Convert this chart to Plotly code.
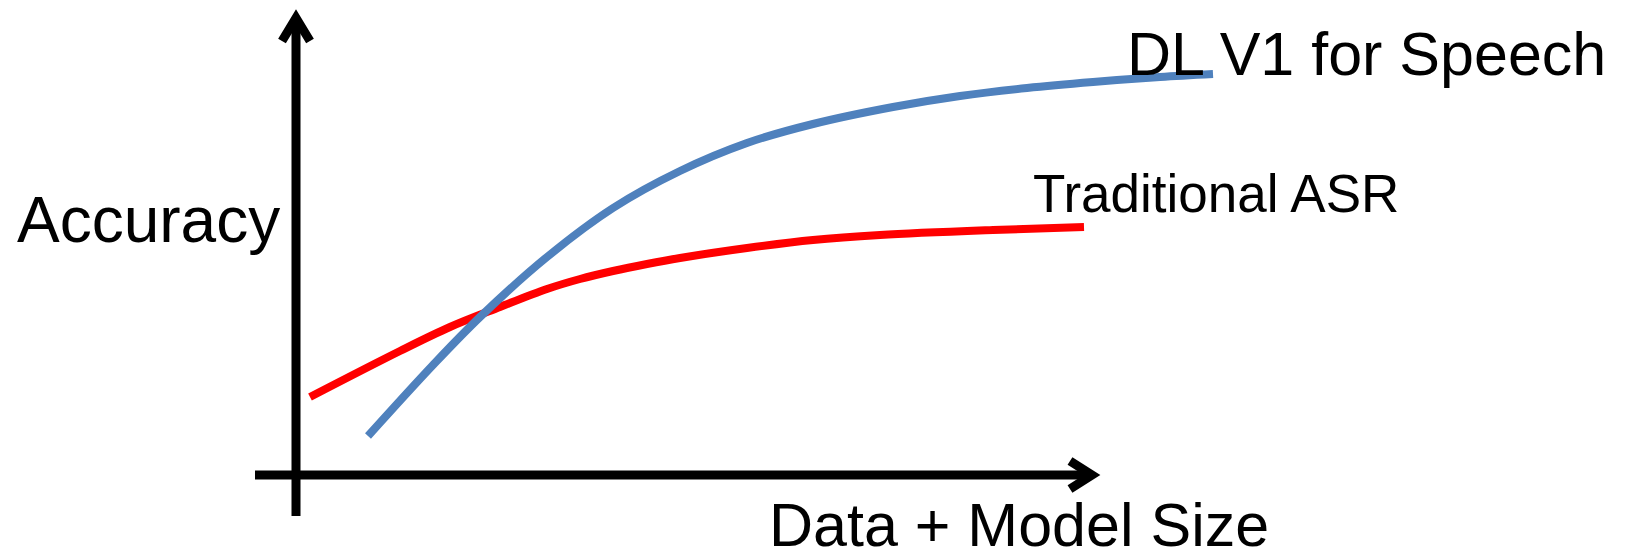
import plotly.graph_objects as go

# Concept sketch: accuracy vs. data + model size for two speech approaches.
# Coordinates are in a free unit space whose origin is the axis crossing.

blue_x = [72, 137, 184, 251, 317, 384, 451, 517, 597, 664, 731, 797, 864, 917]
blue_y = [39, 110, 158, 218, 267, 304, 332, 351, 368, 379, 387, 393, 398, 401]

red_x = [14, 104, 154, 204, 251, 284, 317, 351, 384, 451, 517, 584, 697, 788]
red_y = [78, 124, 148, 168, 186, 196, 204, 211, 217, 227, 235, 240, 245, 248]

series_names = ["DL V1 for Speech", "Traditional ASR"]
axis_titles = ["Accuracy", "Data + Model Size"]

# axis extents (same unit space)
x_axis_start, x_axis_end = -41, 796
y_axis_start, y_axis_end = -41, 457

BLUE = "#4F81BD"
RED = "#FF0000"
FONT = "Liberation Sans, Arial, sans-serif"

fig = go.Figure()

axis_line = dict(color="black", width=9)

# horizontal axis with chevron head
fig.add_trace(go.Scatter(x=[x_axis_start, x_axis_end], y=[0, 0], mode="lines",
                         line=axis_line, hoverinfo="skip"))
fig.add_trace(go.Scatter(x=[x_axis_end - 22, x_axis_end, x_axis_end - 22],
                         y=[14, 0, -14], mode="lines",
                         line=axis_line, hoverinfo="skip"))

# vertical axis with chevron head
fig.add_trace(go.Scatter(x=[0, 0], y=[y_axis_start, y_axis_end], mode="lines",
                         line=axis_line, hoverinfo="skip"))
fig.add_trace(go.Scatter(x=[-14, 0, 14],
                         y=[y_axis_end - 23, y_axis_end, y_axis_end - 23],
                         mode="lines",
                         line=axis_line, hoverinfo="skip"))

# curves
fig.add_trace(go.Scatter(x=red_x, y=red_y, mode="lines", name=series_names[1],
                         line=dict(color=RED, width=8, shape="spline", smoothing=1.0)))
fig.add_trace(go.Scatter(x=blue_x, y=blue_y, mode="lines", name=series_names[0],
                         line=dict(color=BLUE, width=8, shape="spline", smoothing=1.0)))

annotations = [
    dict(text=axis_titles[0], x=-281, y=255, size=64),
    dict(text=axis_titles[1], x=471, y=-50, size=61),
    dict(text=series_names[0], x=829, y=421, size=61),
    dict(text=series_names[1], x=735, y=282, size=53),
]
for a in annotations:
    fig.add_annotation(text=a["text"], x=a["x"], y=a["y"], xref="x", yref="y",
                       xanchor="left", yanchor="middle", showarrow=False,
                       font=dict(family=FONT, size=a["size"], color="black"))

fig.update_layout(
    width=1637, height=560, autosize=False,
    margin=dict(l=0, r=0, t=0, b=0),
    paper_bgcolor="white", plot_bgcolor="white",
    showlegend=False,
    xaxis=dict(range=[-296, 1341], visible=False, fixedrange=True),
    yaxis=dict(range=[-85, 475], visible=False, fixedrange=True),
)

fig.write_html("out.html")
